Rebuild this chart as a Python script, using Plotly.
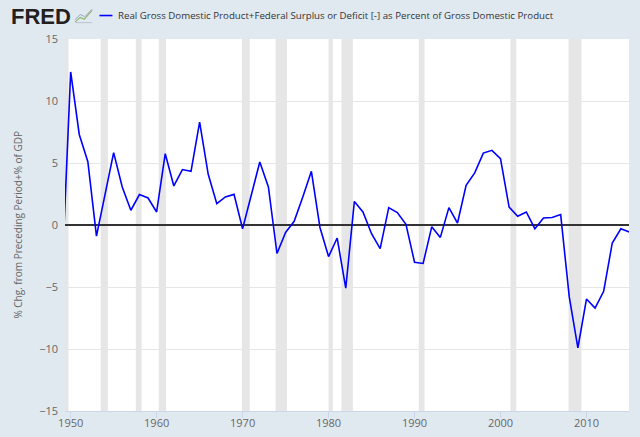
import plotly.graph_objects as go

years = list(range(1949, 2016))
values = [
    -3.8, 12.34, 7.3, 5.1, -0.9, 2.5, 5.84, 3.07, 1.19, 2.45,
    2.18, 1.05, 5.75, 3.15, 4.47, 4.33, 8.3, 4.09, 1.72, 2.26,
    2.47, -0.3, 2.4, 5.08, 3.07, -2.3, -0.6, 0.3, 2.26, 4.33,
    -0.2, -2.55, -1.05, -5.1, 1.9, 1.05, -0.7, -1.9, 1.4, 1.0,
    0.05, -3.0, -3.1, -0.15, -1.0, 1.4, 0.16, 3.2, 4.2, 5.8,
    6.02, 5.35, 1.45, 0.7, 1.05, -0.3, 0.56, 0.6, 0.84, -5.8,
    -9.9, -5.97, -6.7, -5.35, -1.45, -0.3, -0.56,
]
dates = [f"{y}-01-01" for y in years]

# NBER recessions (peak month to trough month)
rec_start = ["1948-11-01", "1953-07-01", "1957-08-01", "1960-04-01", "1969-12-01",
             "1973-11-01", "1980-01-01", "1981-07-01", "1990-07-01", "2001-03-01",
             "2007-12-01"]
rec_end = ["1949-10-01", "1954-05-01", "1958-04-01", "1961-02-01", "1970-11-01",
           "1975-03-01", "1980-07-01", "1982-11-01", "1991-03-01", "2001-11-01",
           "2009-06-01"]

series_name = ("Real Gross Domestic Product+Federal Surplus or Deficit [-] "
               "as Percent of Gross Domestic Product")

fig = go.Figure()
fig.add_trace(go.Scatter(
    x=dates, y=values, mode="lines", name=series_name, showlegend=False,
    line=dict(color="#0000ff", width=1.6),
))

shapes = []
for s, e in zip(rec_start, rec_end):
    shapes.append(dict(type="rect", xref="x", yref="paper", x0=s, x1=e, y0=0, y1=1,
                       fillcolor="#e6e6e6", line=dict(width=0), layer="below"))

# small chart icon next to the FRED logo
shapes.append(dict(type="path", xref="paper", yref="paper",
                   path="M 0.018 1.046 L 0.027 1.058 L 0.034 1.053 L 0.048 1.077",
                   line=dict(color="#8fb56b", width=1.2)))
shapes.append(dict(type="path", xref="paper", yref="paper",
                   path="M 0.018 1.052 L 0.027 1.066 L 0.035 1.060 L 0.048 1.080",
                   line=dict(color="#9aa7b8", width=1)))
shapes.append(dict(type="line", xref="paper", yref="paper",
                   x0=0.018, x1=0.048, y0=1.044, y1=1.044,
                   line=dict(color="#b9c3cf", width=1)))

# legend drawn by hand so it sits in the header strip
shapes.append(dict(type="line", xref="paper", yref="paper",
                   x0=0.0611, x1=0.0841, y0=1.0631, y1=1.0631,
                   line=dict(color="#0000ff", width=1.6)))

fig.update_layout(
    width=640, height=437,
    margin=dict(l=64.5, r=11, t=38.5, b=26.3, autoexpand=False),
    paper_bgcolor="#e1e9f0",
    plot_bgcolor="#ffffff",
    font=dict(family="Open Sans", size=11, color="#666666"),
    shapes=shapes,
    annotations=[
        dict(text="<b>FRED</b>", xref="paper", yref="paper", x=-0.1001, y=1.0618,
             xanchor="left", yanchor="middle", showarrow=False,
             font=dict(family="Liberation Sans", size=22, color="#231f20")),
        dict(text=series_name, xref="paper", yref="paper", x=0.0912, y=1.0631,
             xanchor="left", yanchor="middle", showarrow=False,
             font=dict(size=9.7, color="#333333")),
        dict(text="% Chg. from Preceding Period+% of GDP", xref="paper", yref="paper",
             x=-0.084, y=0.5, xanchor="center", yanchor="middle", textangle=-90,
             showarrow=False, font=dict(size=10, color="#666666")),
    ],
    xaxis=dict(
        type="date",
        range=["1949-05-05", "2014-12-13"],
        tick0="1950-01-01", dtick="M120", tickformat="%Y",
        showgrid=False, zeroline=False,
        showline=True, linecolor="#ccd6eb", linewidth=1,
        ticks="outside", ticklen=6, tickcolor="#ccd6eb",
        ticklabelstandoff=-4,
        tickfont=dict(size=11, color="#666666"),
    ),
    yaxis=dict(
        range=[-15, 15], dtick=5,
        showgrid=True, gridcolor="#e6e6e6", gridwidth=1,
        zeroline=True, zerolinecolor="#333333", zerolinewidth=1.5,
        showline=False, ticks="",
        ticklabelstandoff=6,
        tickfont=dict(size=11, color="#666666"),
    ),
)

# the page keeps the browser's default 8px body margin otherwise
fig.write_html("out.html", config={"displayModeBar": False},
               post_script="document.body.style.margin = '0';")
